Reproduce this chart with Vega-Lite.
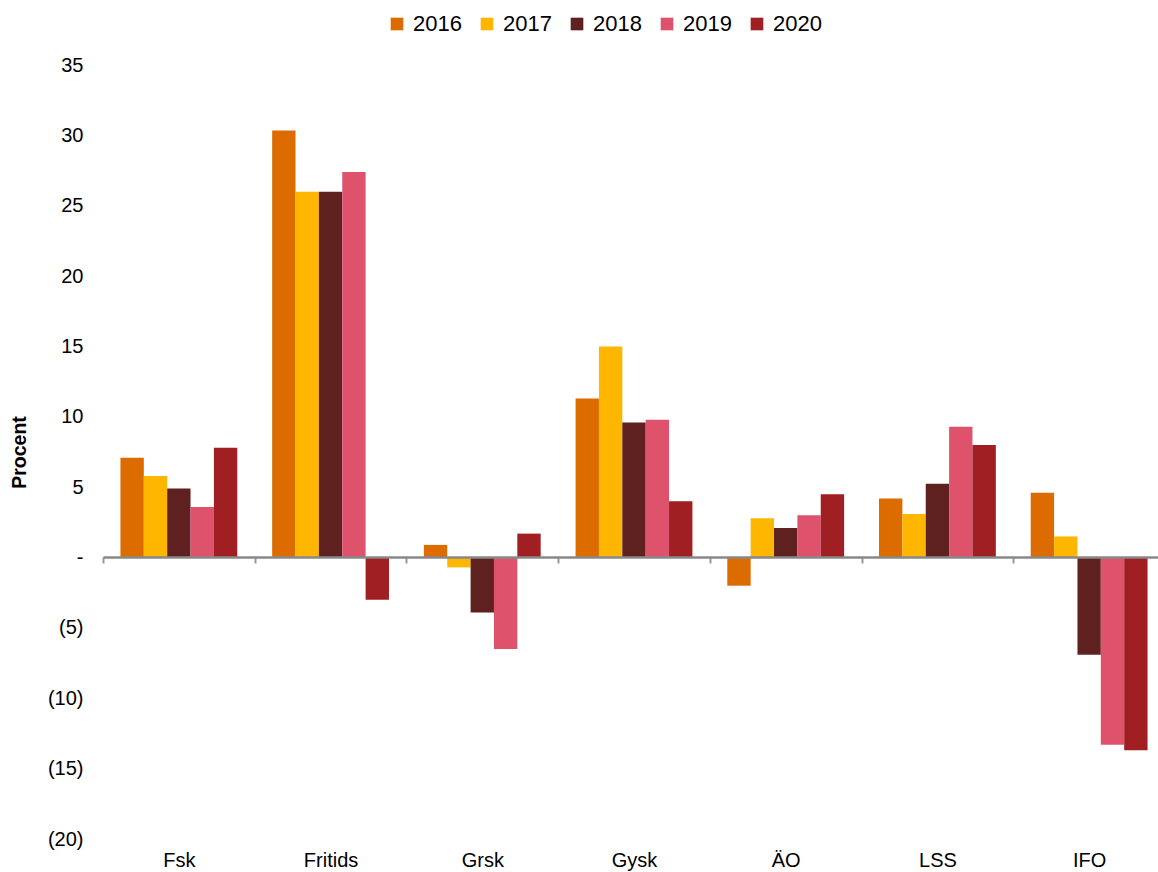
{
  "$schema": "https://vega.github.io/schema/vega-lite/v6.json",
  "width": 1062,
  "height": 774,
  "autosize": {"type": "none"},
  "padding": {"left": 103, "top": 65, "right": 0, "bottom": 33},
  "background": "white",
  "config": {"view": {"stroke": null}, "font": "Liberation Sans"},
  "data": {"values": [
    {"cat": "Fsk", "year": "2016", "value": 7.1},
    {"cat": "Fsk", "year": "2017", "value": 5.8},
    {"cat": "Fsk", "year": "2018", "value": 4.9},
    {"cat": "Fsk", "year": "2019", "value": 3.6},
    {"cat": "Fsk", "year": "2020", "value": 7.8},
    {"cat": "Fritids", "year": "2016", "value": 30.35},
    {"cat": "Fritids", "year": "2017", "value": 26.0},
    {"cat": "Fritids", "year": "2018", "value": 26.0},
    {"cat": "Fritids", "year": "2019", "value": 27.4},
    {"cat": "Fritids", "year": "2020", "value": -3.0},
    {"cat": "Grsk", "year": "2016", "value": 0.9},
    {"cat": "Grsk", "year": "2017", "value": -0.7},
    {"cat": "Grsk", "year": "2018", "value": -3.9},
    {"cat": "Grsk", "year": "2019", "value": -6.5},
    {"cat": "Grsk", "year": "2020", "value": 1.7},
    {"cat": "Gysk", "year": "2016", "value": 11.3},
    {"cat": "Gysk", "year": "2017", "value": 15.0},
    {"cat": "Gysk", "year": "2018", "value": 9.6},
    {"cat": "Gysk", "year": "2019", "value": 9.8},
    {"cat": "Gysk", "year": "2020", "value": 4.0},
    {"cat": "ÄO", "year": "2016", "value": -2.0},
    {"cat": "ÄO", "year": "2017", "value": 2.8},
    {"cat": "ÄO", "year": "2018", "value": 2.1},
    {"cat": "ÄO", "year": "2019", "value": 3.0},
    {"cat": "ÄO", "year": "2020", "value": 4.5},
    {"cat": "LSS", "year": "2016", "value": 4.2},
    {"cat": "LSS", "year": "2017", "value": 3.1},
    {"cat": "LSS", "year": "2018", "value": 5.25},
    {"cat": "LSS", "year": "2019", "value": 9.3},
    {"cat": "LSS", "year": "2020", "value": 8.0},
    {"cat": "IFO", "year": "2016", "value": 4.6},
    {"cat": "IFO", "year": "2017", "value": 1.5},
    {"cat": "IFO", "year": "2018", "value": -6.9},
    {"cat": "IFO", "year": "2019", "value": -13.3},
    {"cat": "IFO", "year": "2020", "value": -13.7}
  ]},
  "mark": {"type": "bar"},
  "encoding": {
    "x": {
      "field": "cat",
      "type": "nominal",
      "sort": ["Fsk", "Fritids", "Grsk", "Gysk", "ÄO", "LSS", "IFO"],
      "scale": {"paddingInner": 0, "paddingOuter": 0},
      "axis": {
        "title": null,
        "orient": "bottom",
        "offset": -282,
        "domainColor": "#888888",
        "domainWidth": 2.5,
        "ticks": true,
        "tickBand": "extent",
        "tickColor": "#999999",
        "tickSize": 6,
        "tickWidth": 2,
        "labelPadding": 287,
        "labelFontSize": 20,
        "labelColor": "#000000",
        "labelAngle": 0,
        "grid": false,
        "zindex": 1
      }
    },
    "xOffset": {
      "field": "year",
      "type": "nominal",
      "sort": ["2016", "2017", "2018", "2019", "2020"],
      "scale": {"paddingInner": 0, "paddingOuter": 0.747}
    },
    "y": {
      "field": "value",
      "type": "quantitative",
      "scale": {"domain": [-20, 35], "nice": false, "zero": false},
      "axis": {
        "title": "Procent",
        "values": [-20, -15, -10, -5, 0, 5, 10, 15, 20, 25, 30, 35],
        "grid": false,
        "domain": false,
        "ticks": false,
        "tickSize": 0,
        "labelPadding": 20,
        "labelFontSize": 20,
        "labelColor": "#000000",
        "labelExpr": "datum.value == 0 ? '-\u00a0' : (datum.value < 0 ? '(' + format(-datum.value, 'd') + ')' : format(datum.value, 'd') + '\u00a0')",
        "titleFontSize": 19.5,
        "titleFontWeight": "bold",
        "titleColor": "#000000",
        "titlePadding": 18
      }
    },
    "color": {
      "field": "year",
      "type": "nominal",
      "scale": {
        "domain": ["2016", "2017", "2018", "2019", "2020"],
        "range": ["#DC6B00", "#FFB600", "#5F2020", "#DE526C", "#A01F22"]
      },
      "legend": {
        "title": null,
        "orient": "none",
        "legendX": 283,
        "legendY": -52,
        "direction": "horizontal",
        "symbolType": "square",
        "symbolSize": 160,
        "symbolOpacity": 1,
        "symbolStrokeWidth": 0,
        "labelFontSize": 22,
        "labelColor": "#000000",
        "columnPadding": 14,
        "labelOffset": 5,
        "padding": 0
      }
    }
  }
}
